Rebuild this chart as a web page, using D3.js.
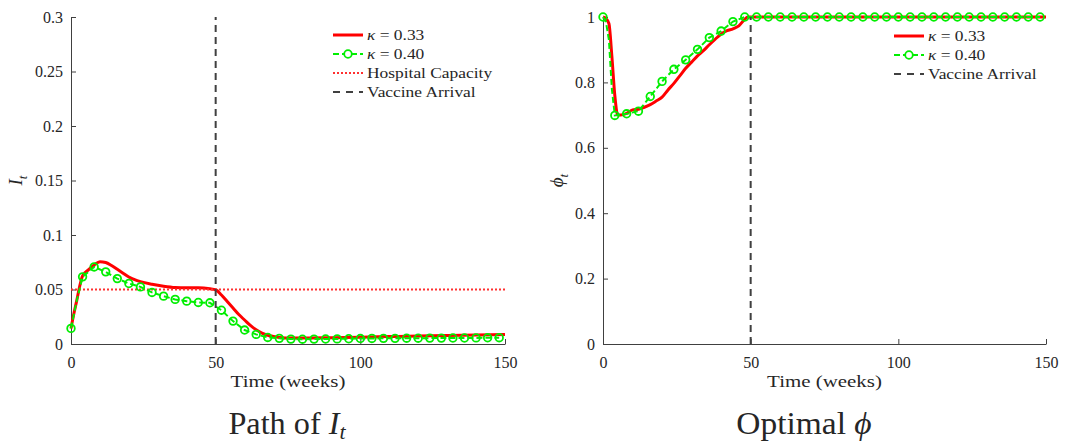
<!DOCTYPE html>
<html>
<head>
<meta charset="utf-8">
<title>Path of I and optimal phi</title>
<style>
  body { margin: 0; background: #fff; }
  svg { display: block; }
  text { font-family: "Liberation Serif", "DejaVu Serif", serif; fill: #262626; }
</style>
</head>
<body>
<script src="https://cdn.jsdelivr.net/npm/d3@7"></script>
<script>
const width = 1065;
const height = 443;

// left panel: infections I_t
const infWeeksA = [0,1,2,3,4,6,8,10,12,14,16,18,20,22,24,28,32,36,40,44,48,50,52,54,56,58,60,62,64,66,68,70,72,76,80,90,100,110,120,130,140,150];
const infA = [0.0143,0.028,0.040,0.053,0.0625,0.068,0.0725,0.0755,0.0748,0.072,0.0685,0.065,0.0615,0.059,0.0572,0.0548,0.053,0.0518,0.0515,0.0515,0.0507,0.0498,0.045,0.039,0.033,0.027,0.022,0.017,0.013,0.010,0.008,0.0068,0.006,0.0055,0.0055,0.0058,0.0062,0.0068,0.0073,0.0078,0.0083,0.0088];
const infWeeksB = [0,2,4,8,12,16,20,24,28,32,36,40,44,48,52,56,60,64,68,72,76,80,84,88,92,96,100,104,108,112,116,120,124,128,132,136,140,144,148];
const infB = [0.0143,0.040,0.0616,0.0707,0.0662,0.060,0.0555,0.0524,0.0473,0.0439,0.0409,0.0393,0.0381,0.0378,0.031,0.021,0.0128,0.0088,0.006,0.0052,0.0045,0.0044,0.0045,0.0046,0.0047,0.0048,0.005,0.0051,0.0052,0.0052,0.0053,0.0053,0.0054,0.0054,0.0055,0.0055,0.0056,0.0057,0.0058];
const hospitalCapacity = 0.05;
const vaccineWeek = 50;

// right panel: optimal phi
const phiWeeksA = [0,1,2,3,4,5,6,8,10,12,14,16,18,20,22,24,26,28,30,32,34,36,38,40,42,44,46,48,49,150];
const phiA = [1,0.995,0.98,0.88,0.76,0.70,0.70,0.705,0.716,0.718,0.724,0.732,0.743,0.755,0.777,0.797,0.82,0.843,0.862,0.881,0.897,0.915,0.932,0.948,0.958,0.964,0.973,0.993,1,1];
const phiWeeksB = [0,1,2,3,4,8,12,16,20,24,28,32,36,40,44,48,52,56,60,64,68,72,76,80,84,88,92,96,100,104,108,112,116,120,124,128,132,136,140,144,148];
const phiB = [1,0.985,0.93,0.78,0.699,0.704,0.712,0.757,0.803,0.84,0.869,0.901,0.937,0.957,0.986,1,1,1,1,1,1,1,1,1,1,1,1,1,1,1,1,1,1,1,1,1,1,1,1,1,1];

const xTicks = [0, 50, 100, 150];
const infTicks = [0, 0.05, 0.1, 0.15, 0.2, 0.25, 0.3];
const phiTicks = [0, 0.2, 0.4, 0.6, 0.8, 1];
const labelA = '0.33', labelB = '0.40';

const red = '#ff0000', green = '#00ee00', gray = '#404040';

const svg = d3.select('body').append('svg')
  .attr('width', width)
  .attr('height', height);

// the reference text is set wider than our fonts, so stretch it horizontally
function stretch(sel, x, y, k, anchor) {
  sel.attr('x', 0).attr('y', 0);
  const w = sel.node().getComputedTextLength();
  const off = anchor === 'middle' ? -w * k / 2 : 0;
  sel.attr('text-anchor', 'start')
    .attr('transform', `translate(${x + off},${y}) scale(${k},1)`);
}

function panel(opt) {
  const x = d3.scaleLinear().domain([0, 150]).range([opt.left, opt.right]);
  const y = d3.scaleLinear().domain(opt.yDomain).range([344, 17]);
  const g = svg.append('g');

  // axes, ticks pointing inward (matlab style)
  g.append('g')
    .attr('transform', `translate(0,${y(opt.yDomain[0])})`)
    .call(d3.axisBottom(x).tickValues(xTicks).tickSizeInner(-5).tickSizeOuter(0).tickPadding(10).tickFormat(d3.format('d')))
    .call(a => a.selectAll('text').attr('dy', '0.85em'));
  g.append('g')
    .attr('transform', `translate(${x(0)},0)`)
    .call(d3.axisLeft(y).tickValues(opt.yTicks).tickSizeInner(-5).tickSizeOuter(0).tickPadding(8).tickFormat(d => String(+d.toFixed(2))));
  g.selectAll('.domain, .tick line').attr('stroke', gray).attr('stroke-width', 1);
  g.selectAll('.tick text').attr('fill', '#262626').attr('font-size', 16).attr('font-family', null);
  g.selectAll('g').attr('font-family', null);

  const lineA = d3.line().x((d, i) => x(opt.weeksA[i])).y(d => y(d)).curve(d3.curveMonotoneX);
  const lineB = d3.line().x((d, i) => x(opt.weeksB[i])).y(d => y(d));

  g.append('path').datum(opt.valuesA)
    .attr('fill', 'none').attr('stroke', red).attr('stroke-width', 3)
    .attr('d', lineA);

  if (opt.capacity != null) {
    g.append('line')
      .attr('x1', x(0)).attr('x2', x(150))
      .attr('y1', y(opt.capacity)).attr('y2', y(opt.capacity))
      .attr('stroke', '#ff3030').attr('stroke-width', 1.8).attr('stroke-dasharray', '2,2');
  }

  g.append('path').datum(opt.valuesB)
    .attr('fill', 'none').attr('stroke', green).attr('stroke-width', 2)
    .attr('stroke-dasharray', '6,3')
    .attr('d', lineB);

  g.append('g').selectAll('circle')
    .data(opt.valuesB.map((v, i) => ({ t: opt.weeksB[i], v })).filter(d => d.t % 4 === 0))
    .join('circle')
    .attr('cx', d => x(d.t)).attr('cy', d => y(d.v)).attr('r', 3.8)
    .attr('fill', 'none').attr('stroke', green).attr('stroke-width', 1.8);

  g.append('line')
    .attr('x1', x(vaccineWeek)).attr('x2', x(vaccineWeek))
    .attr('y1', y(opt.yDomain[0])).attr('y2', y(opt.yDomain[1]))
    .attr('stroke', gray).attr('stroke-width', 2).attr('stroke-dasharray', '7,5');

  // axis labels
  const ylab = g.append('text')
    .attr('transform', `translate(${opt.ylabX},${(y.range()[0] + y.range()[1]) / 2}) rotate(-90)`)
    .attr('text-anchor', 'middle')
    .attr('font-size', 19)
    .attr('font-style', 'italic');
  ylab.append('tspan').text(opt.ySym);
  ylab.append('tspan').attr('font-size', 13).attr('dy', 5).text('t');

  const xlab = g.append('text').attr('font-size', 17).text('Time (weeks)');
  stretch(xlab, (opt.left + opt.right) / 2, 387, 1.23, 'middle');

  const title = g.append('text').attr('font-size', 31);
  title.append('tspan').text(opt.title);
  title.append('tspan').attr('font-style', 'italic').text(opt.titleSym);
  if (opt.titleSub) title.append('tspan').attr('font-style', 'italic').attr('font-size', 21).attr('dy', 5).text(opt.titleSub);
  stretch(title, opt.titleX, 434, opt.titleK, 'middle');

  // legend
  const leg = g.append('g').attr('transform', `translate(${opt.legX},0)`);
  opt.legend.forEach((e, i) => {
    const ly = opt.legY[i];
    const row = leg.append('g');
    const ln = row.append('line').attr('x1', 0).attr('x2', 30).attr('y1', ly).attr('y2', ly);
    if (e.kind === 'a') ln.attr('stroke', red).attr('stroke-width', 3);
    if (e.kind === 'b') {
      ln.attr('stroke', green).attr('stroke-width', 2).attr('stroke-dasharray', '6,3');
      row.append('circle').attr('cx', 15).attr('cy', ly).attr('r', 3.8)
        .attr('fill', '#fff').attr('stroke', green).attr('stroke-width', 1.8);
    }
    if (e.kind === 'cap') ln.attr('stroke', '#ff3030').attr('stroke-width', 1.8).attr('stroke-dasharray', '2,2');
    if (e.kind === 'vac') ln.attr('stroke', gray).attr('stroke-width', 2).attr('stroke-dasharray', '7,6');
    const t = row.append('text').attr('font-size', 15);
    if (e.kappa) {
      t.append('tspan').attr('font-style', 'italic').text('κ');
      t.append('tspan').text(' = ' + e.kappa);
    } else {
      t.text(e.label);
    }
    stretch(t, 34, ly + 5, 1.16, 'start');
  });
}

panel({
  left: 71, right: 505, yDomain: [0, 0.3], yTicks: infTicks,
  weeksA: infWeeksA, valuesA: infA, weeksB: infWeeksB, valuesB: infB,
  capacity: hospitalCapacity, ySym: 'I', ylabX: 22,
  title: 'Path of ', titleSym: 'I', titleSub: 't', titleX: 287, titleK: 1.04,
  legX: 333, legY: [35, 54, 73, 92],
  legend: [{ kind: 'a', kappa: labelA }, { kind: 'b', kappa: labelB }, { kind: 'cap', label: 'Hospital Capacity' }, { kind: 'vac', label: 'Vaccine Arrival' }]
});

panel({
  left: 603, right: 1046, yDomain: [0, 1], yTicks: phiTicks,
  weeksA: phiWeeksA, valuesA: phiA, weeksB: phiWeeksB, valuesB: phiB,
  capacity: null, ySym: 'ϕ', ylabX: 563,
  title: 'Optimal ', titleSym: 'ϕ', titleSub: null, titleX: 804, titleK: 1.08,
  legX: 894, legY: [36, 55, 74],
  legend: [{ kind: 'a', kappa: labelA }, { kind: 'b', kappa: labelB }, { kind: 'vac', label: 'Vaccine Arrival' }]
});
</script>
</body>
</html>
